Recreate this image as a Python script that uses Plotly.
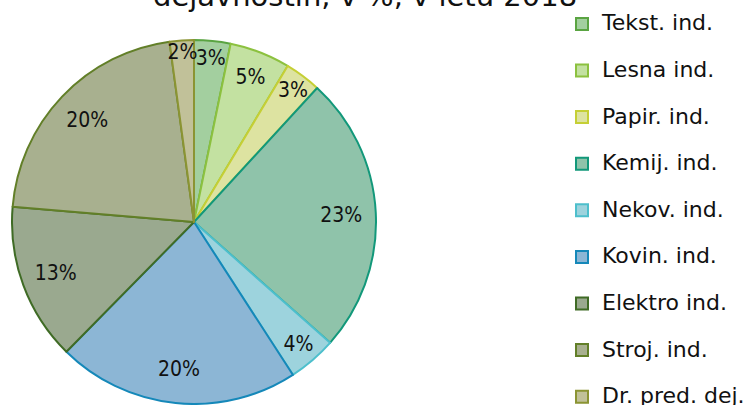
import plotly.graph_objects as go

categories = ["Tekst. ind.", "Lesna ind.", "Papir. ind.", "Kemij. ind.", "Nekov. ind.",
              "Kovin. ind.", "Elektro ind.", "Stroj. ind.", "Dr. pred. dej."]
shares = [3, 5, 3, 23, 4, 20, 13, 20, 2]
fill_colors = ["#a3cf9f", "#c3e1a1", "#dde3a1", "#8fc3aa", "#9dd3dd",
               "#8cb6d5", "#9aa98f", "#a8b08f", "#c1c199"]
line_colors = ["#5aa442", "#8cc13f", "#c5cf35", "#12987a", "#4dbfcc",
               "#1588b9", "#3f6b25", "#627f28", "#8b9433"]
title_text = "dejavnostih, v %, v letu 2018"

W, H = 749, 405
cx, cy, r = 194, 222, 182
dom_x = [(cx - r) / W, (cx + r) / W]
dom_y = [(H - cy - r) / H, (H - cy + r) / H]

legend_labels = ["<span style='font-size:22px'>%s</span><br>\u00a0" % c for c in categories]
pct_text = ["%d%%" % v for v in shares]

fig = go.Figure()
fig.add_trace(go.Pie(
    labels=legend_labels, values=shares, sort=False, direction="clockwise", rotation=0,
    marker=dict(colors=fill_colors, line=dict(color=line_colors, width=2)),
    textinfo="none", domain=dict(x=dom_x, y=dom_y), showlegend=True,
    hoverinfo="skip",
))
fig.add_trace(go.Pie(
    labels=categories, values=shares, sort=False, direction="clockwise", rotation=0,
    hole=0.62,
    marker=dict(colors=["rgba(0,0,0,0)"] * len(shares), line=dict(width=0)),
    text=pct_text, textinfo="text", textposition="inside",
    insidetextorientation="horizontal",
    textfont=dict(family="Liberation Sans Narrow, DejaVu Sans Condensed, sans-serif",
                  size=21, color="#111111"),
    domain=dict(x=dom_x, y=dom_y), showlegend=False, hoverinfo="skip",
))

fig.add_annotation(text=title_text, xref="paper", yref="paper", x=365 / W, y=1 + 4.3 / H,
                   xanchor="center", yanchor="middle", showarrow=False,
                   font=dict(family="DejaVu Sans", size=29, color="#111111"))

fig.update_layout(
    width=W, height=H,
    margin=dict(l=0, r=0, t=0, b=0, autoexpand=False),
    paper_bgcolor="white", plot_bgcolor="white",
    uniformtext=dict(minsize=21, mode="show"),
    legend=dict(x=562 / W, xanchor="left", y=1 - 6.5 / H, yanchor="top",
                font=dict(family="DejaVu Sans", size=16.77, color="#111111"),
                bgcolor="rgba(0,0,0,0)", traceorder="normal", valign="top",
                maxheight=1000),
)
fig.write_html("out.html", config={"displayModeBar": False},
               post_script="document.body.style.margin='0px';")
